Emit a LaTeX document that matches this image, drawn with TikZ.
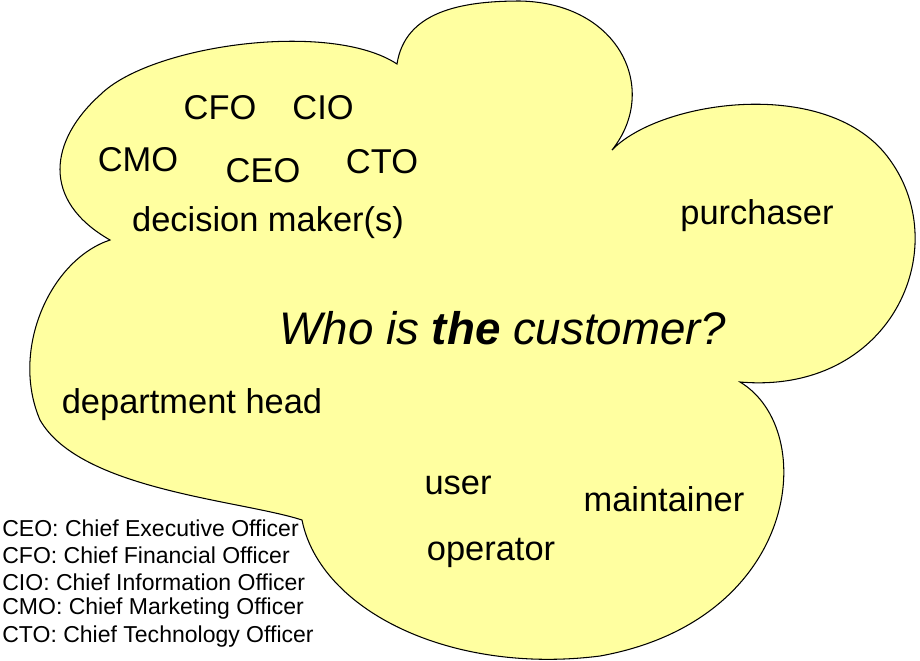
\documentclass[tikz,border=0pt]{standalone}
\usepackage{fontspec}
\setmainfont{Liberation Sans}
\begin{document}
\begin{tikzpicture}[x=0.02cm,y=-0.02cm,
  lbl/.style={font=\fontsize{19.6}{22}\selectfont,inner sep=0pt},
  leg/.style={font=\fontsize{13.1}{15}\selectfont,anchor=west,inner sep=0pt}]
\useasboundingbox (0,0) rectangle (920,660);
\definecolor{cloud}{RGB}{255,255,160}
\coordinate (A) at (110,240);
\coordinate (B) at (397,64);
\coordinate (C) at (612,150);
\coordinate (D) at (740,382);
\coordinate (E) at (302,520);
\draw[fill=cloud,line width=0.6pt] (A) .. controls (40,200) and (50,140) .. (100,95)
 .. controls (150,45) and (330,20) .. (B)
 .. controls (405,12) and (460,1) .. (520,1)
 .. controls (620,3) and (660,90) .. (C)
 .. controls (660,100) and (830,75) .. (890,160)
 .. controls (955,250) and (890,395) .. (D)
 .. controls (820,430) and (800,620) .. (600,656)
 .. controls (450,675) and (320,610) .. (E)
 .. controls (240,500) and (80,490) .. (40,420)
 .. controls (10,350) and (50,260) .. (A) -- cycle;
\node[lbl] (cfo) at (220,108) {CFO};
\node[lbl] (cio) at (323,108) {CIO};
\node[lbl] (cmo) at (138,160) {CMO};
\node[lbl] (ceo) at (263,171) {CEO};
\node[lbl] (cto) at (382,162) {CTO};
\node[lbl] (dm) at (268,223) {decision maker(s)};
\node[lbl] (pu) at (757,216) {purchaser};
\node[inner sep=0pt,font=\fontsize{26}{29}\selectfont\itshape] (q) at (503,328) {Who is \textbf{the} customer?};
\node[lbl] (dh) at (192,405) {department head};
\node[lbl] (us) at (458,485) {user};
\node[lbl] (ma) at (664,499) {maintainer};
\node[lbl] (op) at (491,553) {operator};
\node[leg] (l1) at (2,528) {CEO: Chief Executive Officer};
\node[leg] (l2) at (2,555) {CFO: Chief Financial Officer};
\node[leg] (l3) at (2,582) {CIO: Chief Information Officer};
\node[leg] (l4) at (2,609) {CMO: Chief Marketing Officer};
\node[leg] (l5) at (2,637) {CTO: Chief Technology Officer};
\end{tikzpicture}
\end{document}
